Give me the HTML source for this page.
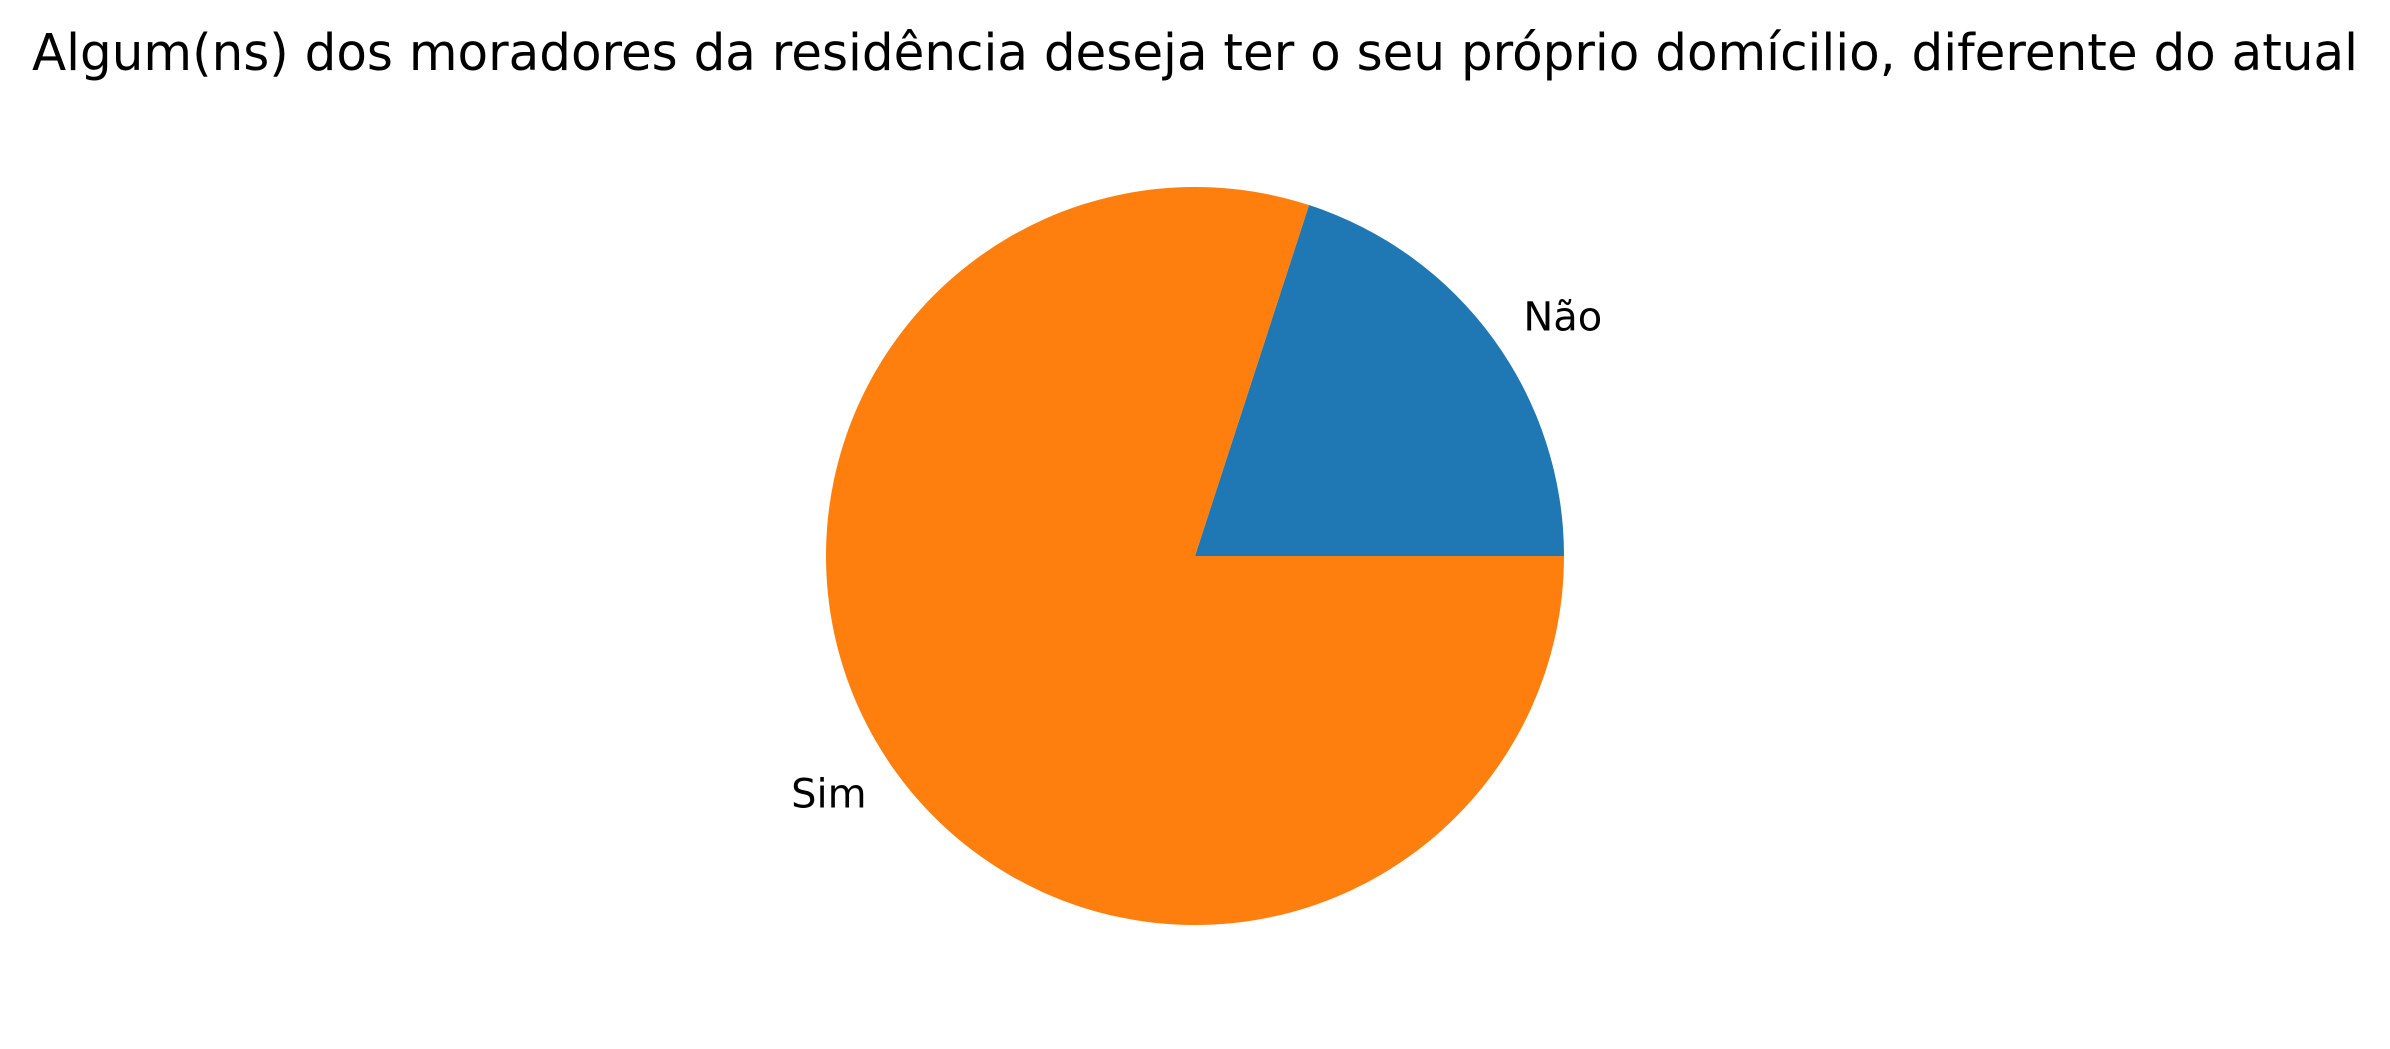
<!DOCTYPE html>
<html><head><meta charset="utf-8">
<style>
html,body{margin:0;padding:0;background:#fff;}
svg{display:block;font-family:"DejaVu Sans","Liberation Sans",sans-serif;}
</style></head>
<body>
<svg id="chart" width="2390" height="1049" viewBox="0 0 2390 1049" xmlns="http://www.w3.org/2000/svg">
<text x="1195" y="70" text-anchor="middle" font-size="51" textLength="2326" lengthAdjust="spacingAndGlyphs" fill="#000">Algum(ns) dos moradores da residência deseja ter o seu próprio domícilio, diferente do atual</text>
<g id="slices"></g>
</svg>
<script>
const categories = ["Não", "Sim"];
const values = [20, 80];
const colors = ["#1f77b4", "#ff7f0e"];

const cx = 1195, cy = 556, r = 369;
const svgNS = "http://www.w3.org/2000/svg";
const g = document.getElementById("slices");
const total = values.reduce((a, b) => a + b, 0);
let start = 0;
values.forEach((v, i) => {
  const sweep = v / total * 2 * Math.PI;
  const a0 = start, a1 = start + sweep;
  const x0 = cx + r * Math.cos(a0), y0 = cy - r * Math.sin(a0);
  const x1 = cx + r * Math.cos(a1), y1 = cy - r * Math.sin(a1);
  const large = sweep > Math.PI ? 1 : 0;
  const p = document.createElementNS(svgNS, "path");
  p.setAttribute("d", `M${cx},${cy} L${x0},${y0} A${r},${r} 0 ${large} 0 ${x1},${y1} Z`);
  p.setAttribute("fill", colors[i]);
  
  
  g.appendChild(p);
  const mid = (a0 + a1) / 2;
  const lx = cx + 1.1 * r * Math.cos(mid), ly = cy - 1.1 * r * Math.sin(mid);
  const t = document.createElementNS(svgNS, "text");
  t.setAttribute("x", lx);
  t.setAttribute("y", ly);
  t.setAttribute("font-size", "40");
  t.setAttribute("dominant-baseline", "central");
  t.setAttribute("text-anchor", Math.cos(mid) >= 0 ? "start" : "end");
  t.textContent = categories[i];
  
  
  g.appendChild(t);
  start = a1;
});
</script>
</body></html>
